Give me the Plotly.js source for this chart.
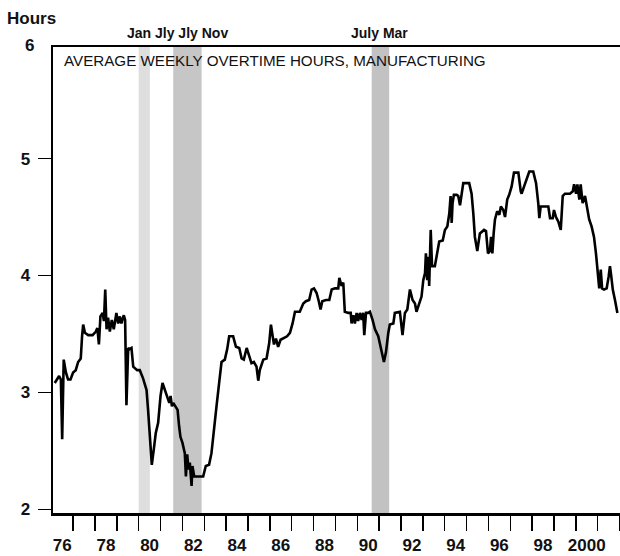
<!DOCTYPE html>
<html>
<head>
<meta charset="utf-8">
<script src="https://cdn.plot.ly/plotly-3.0.1.min.js"></script>
<style>html,body{margin:0;padding:0;background:#fff;}#chart{width:620px;height:556px;}</style>
</head>
<body>
<div id="chart"></div>
<script>
// Time in decimal years, values in hours
const time = [
1976.16,1976.27,1976.36,1976.44,1976.50,1976.57,1976.67,1976.77,1976.88,1977.00,
1977.12,1977.23,1977.35,1977.41,1977.46,1977.54,1977.69,1977.89,1978.04,1978.11,
1978.18,1978.25,1978.35,1978.41,1978.47,1978.53,1978.60,1978.68,1978.77,1978.86,
1978.98,1979.06,1979.14,1979.21,1979.32,1979.38,1979.44,1979.52,1979.59,1979.67,
1979.75,1979.93,1980.05,1980.20,1980.36,1980.43,1980.51,1980.60,1980.69,1980.78,
1980.89,1981.00,1981.09,1981.20,1981.30,1981.40,1981.46,1981.52,1981.58,1981.70,
1981.78,1981.85,1981.91,1982.00,1982.11,1982.16,1982.22,1982.28,1982.34,1982.42,
1982.46,1982.54,1982.72,1982.95,1983.07,1983.22,1983.33,1983.44,1983.56,1983.68,
1983.79,1983.94,1984.05,1984.14,1984.32,1984.45,1984.60,1984.71,1984.81,1984.94,
1985.06,1985.16,1985.27,1985.39,1985.47,1985.54,1985.70,1985.85,1985.97,1986.05,
1986.13,1986.19,1986.28,1986.38,1986.49,1986.61,1986.79,1986.92,1987.04,1987.15,
1987.37,1987.53,1987.65,1987.80,1987.91,1988.02,1988.14,1988.24,1988.32,1988.40,
1988.57,1988.72,1988.83,1988.98,1989.13,1989.18,1989.28,1989.36,1989.43,1989.59,
1989.70,1989.74,1989.82,1989.89,1989.97,1990.04,1990.12,1990.20,1990.27,1990.32,
1990.40,1990.50,1990.58,1990.70,1990.81,1990.96,1991.07,1991.16,1991.22,1991.31,
1991.37,1991.42,1991.49,1991.65,1991.72,1991.95,1992.07,1992.18,1992.29,1992.41,
1992.53,1992.64,1992.71,1992.84,1992.94,1993.02,1993.10,1993.14,1993.20,1993.25,
1993.29,1993.36,1993.42,1993.55,1993.66,1993.75,1993.91,1994.01,1994.12,1994.21,
1994.27,1994.32,1994.36,1994.42,1994.55,1994.62,1994.70,1994.78,1994.85,1995.12,
1995.23,1995.31,1995.38,1995.49,1995.61,1995.80,1995.89,1995.98,1996.07,1996.12,
1996.18,1996.24,1996.30,1996.40,1996.50,1996.57,1996.68,1996.76,1996.86,1996.95,
1997.06,1997.17,1997.37,1997.48,1997.52,1997.63,1997.75,1997.87,1998.05,1998.18,
1998.28,1998.33,1998.39,1998.59,1998.74,1998.82,1998.94,1999.00,1999.09,1999.20,
1999.31,1999.40,1999.50,1999.73,1999.86,1999.92,2000.01,2000.07,2000.16,2000.22,
2000.31,2000.42,2000.52,2000.61,2000.72,2000.83,2000.92,2000.98,2001.07,2001.14,
2001.20,2001.29,2001.41,2001.50,2001.56,2001.61,2001.69,2001.79,2001.90
];
const hours = [
3.08,3.11,3.14,3.11,2.60,3.28,3.17,3.11,3.11,3.17,
3.19,3.26,3.29,3.48,3.58,3.51,3.49,3.49,3.52,3.55,
3.41,3.65,3.68,3.61,3.88,3.54,3.64,3.52,3.62,3.54,
3.68,3.59,3.65,3.59,3.66,3.62,2.89,3.38,3.37,3.38,
3.22,3.19,3.19,3.12,3.02,2.85,2.62,2.38,2.51,2.65,
2.74,2.97,3.08,3.02,2.97,2.91,2.97,2.88,2.91,2.88,
2.85,2.71,2.62,2.57,2.48,2.28,2.47,2.34,2.40,2.20,
2.37,2.28,2.28,2.28,2.37,2.38,2.48,2.65,2.88,3.08,
3.26,3.28,3.37,3.48,3.48,3.39,3.38,3.29,3.28,3.38,
3.31,3.25,3.26,3.22,3.10,3.19,3.28,3.29,3.42,3.58,
3.48,3.41,3.46,3.39,3.45,3.46,3.48,3.51,3.59,3.69,
3.69,3.76,3.78,3.79,3.88,3.89,3.85,3.78,3.71,3.78,
3.79,3.79,3.88,3.89,3.89,3.98,3.91,3.94,3.69,3.68,
3.68,3.59,3.66,3.59,3.68,3.61,3.68,3.62,3.68,3.49,
3.68,3.68,3.69,3.62,3.54,3.48,3.39,3.31,3.26,3.34,
3.45,3.51,3.58,3.59,3.68,3.69,3.49,3.68,3.71,3.88,
3.79,3.76,3.69,3.76,3.82,3.96,4.02,4.19,3.96,4.16,
3.91,4.39,4.08,4.08,4.19,4.29,4.30,4.39,4.42,4.53,
4.68,4.45,4.62,4.69,4.69,4.68,4.60,4.69,4.79,4.79,
4.70,4.53,4.33,4.21,4.36,4.39,4.38,4.19,4.21,4.33,
4.19,4.36,4.48,4.55,4.52,4.59,4.56,4.50,4.65,4.69,
4.76,4.88,4.88,4.72,4.70,4.76,4.82,4.89,4.89,4.79,
4.62,4.49,4.59,4.59,4.59,4.49,4.49,4.56,4.50,4.46,
4.39,4.68,4.70,4.70,4.72,4.78,4.70,4.78,4.65,4.78,
4.62,4.68,4.59,4.48,4.42,4.33,4.19,4.08,3.89,4.05,
3.89,3.88,3.89,3.99,4.08,4.01,3.88,3.79,3.68
];
// Recession bands (decimal years)
const recStart = [1980.0, 1981.58, 1990.66];
const recEnd   = [1980.51, 1982.88, 1991.46];
const recFill  = ['#dedede', '#c6c6c6', '#c2c2c2'];
// Axis labels
const yearLabels = ['76','78','80','82','84','86','88','90','92','94','96','98','2000'];
const yearLabelPos = [1976.5,1978.5,1980.5,1982.5,1984.5,1986.5,1988.5,1990.5,1992.5,1994.5,1996.5,1998.5,2000.5];
const yTicks = [2,3,4,5];

const FONT = 'Liberation Sans, Arial, Helvetica, sans-serif';

const shapes = recStart.map((s, i) => ({
  type: 'rect', xref: 'x', yref: 'paper', x0: s, x1: recEnd[i], y0: 0, y1: 1,
  fillcolor: recFill[i], line: {width: 0}, layer: 'below'
}));

const trace = {
  x: time, y: hours, type: 'scatter', mode: 'lines',
  line: {color: '#000', width: 2.6}, hoverinfo: 'skip'
};

const layout = {
  width: 620, height: 556,
  margin: {l: 53, r: 0, t: 47, b: 43},
  paper_bgcolor: '#fff', plot_bgcolor: '#fff',
  showlegend: false,
  font: {family: FONT, color: '#111'},
  xaxis: {
    range: [1976.08, 2002.02],
    tickmode: 'array', tickvals: yearLabelPos, ticktext: yearLabels,
    ticks: '', ticklabelstandoff: 15,
    tickfont: {family: FONT, size: 17, weight: 'bold', color: '#111'},
    showline: true, linecolor: '#000', linewidth: 2.5, mirror: true,
    showgrid: false, zeroline: false,
    minor: {tickmode: 'linear', tick0: 1976, dtick: 1, ticks: 'outside',
            ticklen: 15, tickwidth: 1.5, tickcolor: '#000', showgrid: false}
  },
  yaxis: {
    range: [1.968, 5.955],
    tickmode: 'array', tickvals: yTicks,
    ticks: 'outside', ticklen: 13, tickwidth: 1.5, tickcolor: '#000',
    ticklabelstandoff: 4,
    tickfont: {family: FONT, size: 17, weight: 'bold', color: '#111'},
    showline: true, linecolor: '#000', linewidth: 2.5,
    showgrid: false, zeroline: false
  },
  shapes: shapes,
  annotations: [
    {text: 'Hours', xref: 'paper', yref: 'paper', x: -0.0847, y: 1.062,
     xanchor: 'left', yanchor: 'middle', showarrow: false,
     font: {family: FONT, size: 17, weight: 'bold', color: '#111'}},
    {text: '6', xref: 'paper', yref: 'paper', x: 0, y: 1.004, xshift: -17,
     xanchor: 'right', yanchor: 'middle', showarrow: false,
     font: {family: FONT, size: 17, weight: 'bold', color: '#111'}},
    {text: 'AVERAGE WEEKLY OVERTIME HOURS, MANUFACTURING', xref: 'paper', yref: 'paper',
     x: 0.0159, y: 0.972, xanchor: 'left', yanchor: 'middle', showarrow: false,
     font: {family: FONT, size: 15.2, color: '#111'}},
    {text: 'Jan Jly Jly Nov', xref: 'paper', yref: 'paper', x: 0.2196, y: 1.030,
     xanchor: 'center', yanchor: 'middle', showarrow: false,
     font: {family: FONT, size: 14, weight: 'bold', color: '#111'}},
    {text: 'July Mar', xref: 'paper', yref: 'paper', x: 0.5767, y: 1.030,
     xanchor: 'center', yanchor: 'middle', showarrow: false,
     font: {family: FONT, size: 14, weight: 'bold', color: '#111'}}
  ]
};

Plotly.newPlot('chart', [trace], layout, {displayModeBar: false, staticPlot: true});
</script>
</body>
</html>
